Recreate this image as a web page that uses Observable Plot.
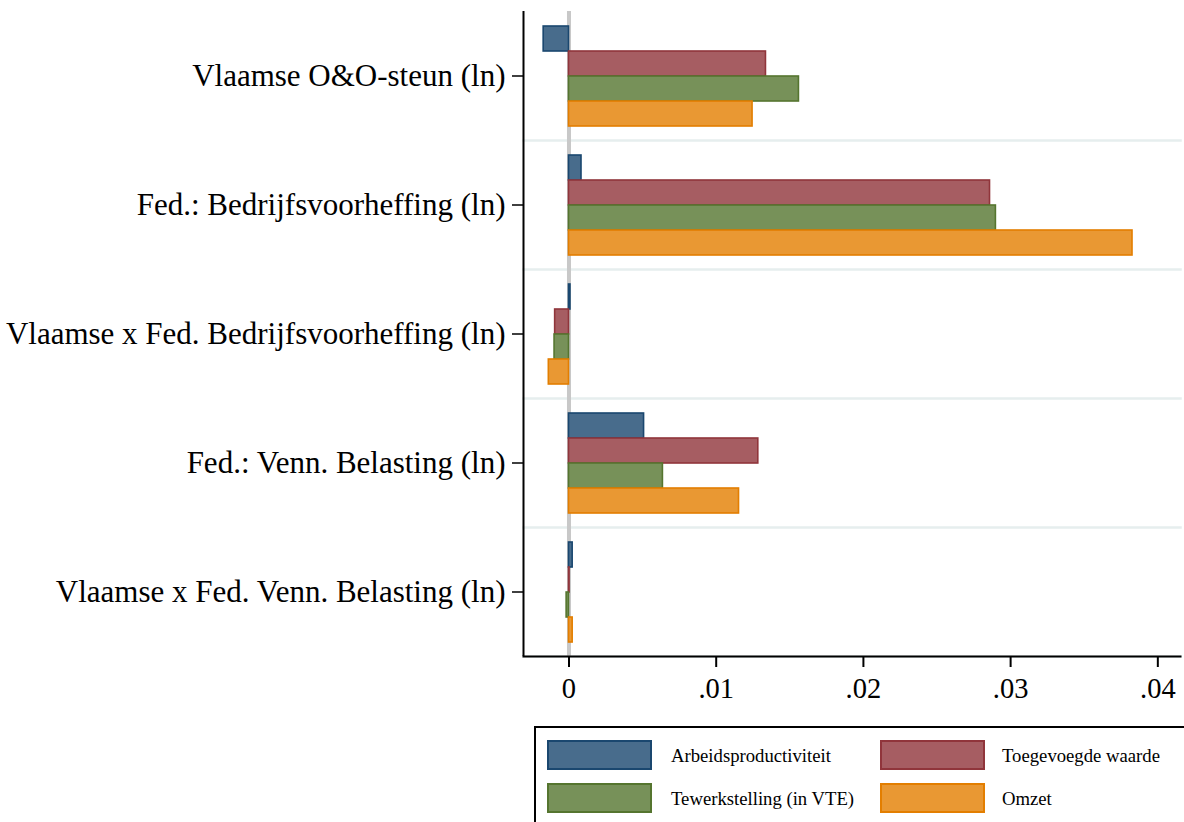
<!DOCTYPE html>
<html>
<head>
<meta charset="utf-8">
<script src="https://cdn.jsdelivr.net/npm/d3@7"></script>
<script src="https://cdn.jsdelivr.net/npm/@observablehq/plot@0.6"></script>
<style>
  html, body { margin: 0; padding: 0; background: #fff; }
  #wrap { position: relative; width: 1184px; height: 822px; overflow: hidden; font-family: "Liberation Serif", "Times New Roman", serif; }
  #legend { position: absolute; left: 534px; top: 726px; width: 680px; height: 120px; border: 2px solid #000; box-sizing: border-box; }
  .sw { position: absolute; width: 105px; height: 30px; box-sizing: border-box; border: 2px solid; }
  .lt { position: absolute; font-size: 18.7px; line-height: 30px; color: #000; white-space: nowrap; }
</style>
</head>
<body>
<div id="wrap">
  <div id="chart"></div>
  <div id="legend"></div>
</div>
<script>
// ---- data ----
const categories = [
  "Vlaamse O&O-steun (ln)",
  "Fed.: Bedrijfsvoorheffing (ln)",
  "Vlaamse x Fed. Bedrijfsvoorheffing (ln)",
  "Fed.: Venn. Belasting (ln)",
  "Vlaamse x Fed. Venn. Belasting (ln)"
];
const seriesNames = ["Arbeidsproductiviteit", "Toegevoegde waarde", "Tewerkstelling (in VTE)", "Omzet"];
const arbeidsproductiviteit = [-0.00172, 0.00085, 0.0001, 0.0051, 0.00025];
const toegevoegdeWaarde     = [0.01338, 0.0286, -0.00094, 0.01286, 0.00004];
const tewerkstelling        = [0.01562, 0.0290, -0.00098, 0.00638, -0.00016];
const omzet                 = [0.01247, 0.03828, -0.00137, 0.01155, 0.00025];
const xTicks = [0, 0.01, 0.02, 0.03, 0.04];
const xTickLabels = ["0", ".01", ".02", ".03", ".04"];

// ---- styles ----
const fillOf = {
  "Arbeidsproductiviteit": "#486c8c",
  "Toegevoegde waarde": "#a65d62",
  "Tewerkstelling (in VTE)": "#779159",
  "Omzet": "#e99833"
};
const strokeOf = {
  "Arbeidsproductiviteit": "#1a476f",
  "Toegevoegde waarde": "#90353b",
  "Tewerkstelling (in VTE)": "#55752f",
  "Omzet": "#e37e00"
};

const valuesBySeries = [arbeidsproductiviteit, toegevoegdeWaarde, tewerkstelling, omzet];
const rows = categories.flatMap((c, i) =>
  seriesNames.map((s, j) => ({category: c, series: s, value: valuesBySeries[j][i]}))
);

const xMin = -0.00309, xMax = 0.04154;

const chart = Plot.plot({
  width: 1184,
  height: 712,
  marginLeft: 523,
  marginRight: 4,
  marginTop: 10,
  marginBottom: 55,
  style: {fontFamily: "'Liberation Serif', 'Times New Roman', serif", background: "#fff", color: "#000", overflow: "visible"},
  x: {domain: [xMin, xMax]},
  y: {domain: seriesNames, axis: null, paddingInner: 0, paddingOuter: 0.508},
  fy: {domain: categories, padding: 0},
  color: {type: "identity"},
  marks: [
    Plot.frame({anchor: "bottom", stroke: "#e6eeee", strokeWidth: 2.5}),
    Plot.ruleX([0], {stroke: "#c8c8c8", strokeWidth: 4}),
    Plot.barX(rows, {
      fy: "category", y: "series", x: "value",
      fill: d => fillOf[d.series],
      stroke: d => strokeOf[d.series],
      strokeWidth: 1.6
    }),
    Plot.ruleX([xMin], {stroke: "#000", strokeWidth: 2}),
    Plot.frame({anchor: "bottom", facet: "super", stroke: "#000", strokeWidth: 2}),
    Plot.axisFy({anchor: "left", tickSize: 11, tickPadding: 7, fontSize: 31, label: null, strokeWidth: 1.5}),
    Plot.axisX({ticks: xTicks, tickFormat: (d, i) => xTickLabels[xTicks.indexOf(d)], tickSize: 11, tickPadding: 10, fontSize: 28.5, label: null, strokeWidth: 2})
  ]
});
document.getElementById("chart").appendChild(chart);

// ---- legend ----
const legend = document.getElementById("legend");
const pos = [[0, 0], [1, 0], [0, 1], [1, 1]];
seriesNames.forEach((s, k) => {
  const [col, row] = pos[k];
  const sx = 547 + col * 333 - 536, sy = 740 + row * 43 - 728;
  const sw = document.createElement("div");
  sw.className = "sw";
  sw.style.left = sx + "px"; sw.style.top = sy + "px";
  sw.style.background = fillOf[s]; sw.style.borderColor = strokeOf[s];
  legend.appendChild(sw);
  const t = document.createElement("div");
  t.className = "lt";
  t.textContent = s;
  t.style.left = (671 + col * 331 - 536) + "px"; t.style.top = (sy + 1) + "px";
  legend.appendChild(t);
});
</script>
</body>
</html>
